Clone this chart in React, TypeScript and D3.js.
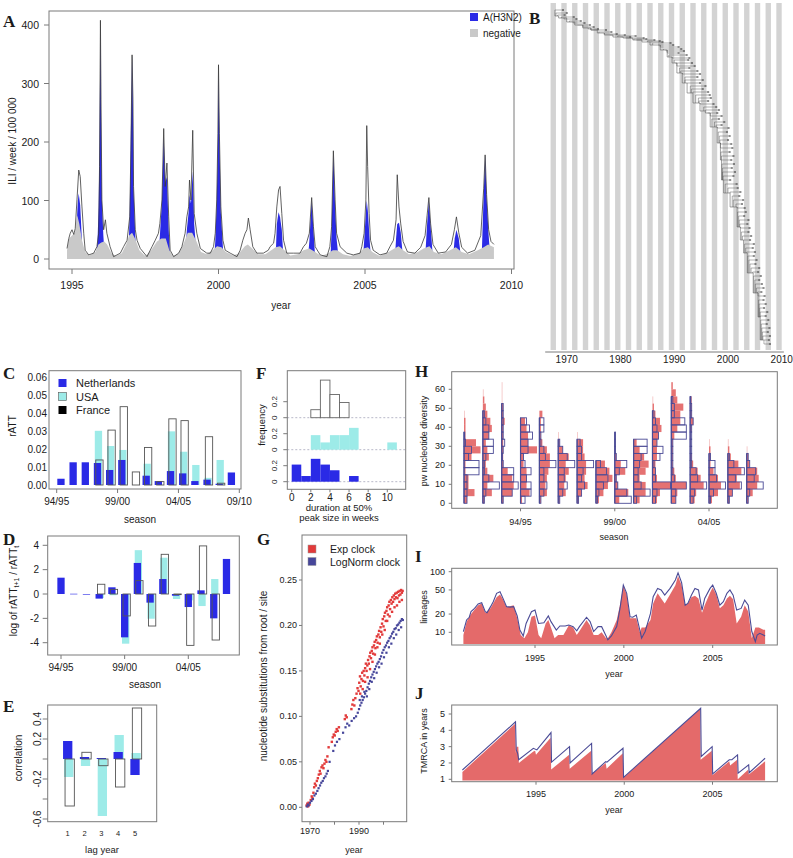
import React from 'react';
import * as d3 from 'd3';

type Pt = [number, number];

const SANS = '"Liberation Sans", Arial, Helvetica, sans-serif';
const SERIF = '"Liberation Serif", "Times New Roman", serif';
const INK = '#1a1a1a';
const FRAME = '#7a7a7a';
const BLUE = '#2a2ae6';
const CYAN = '#9debe8';
const GREY = '#c9c9c9';
const RED = '#e46a6a';
const NAVY = '#4b4b96';

// ---------- A : ILI per week ----------
const iliTotal: Pt[] = [[1994.83,18],[1994.89,35],[1994.94,44],[1995.0,50],[1995.06,42],[1995.11,52],[1995.17,101],[1995.23,152],[1995.28,141],[1995.34,89],[1995.4,44],[1995.45,15],[1995.57,7],[1995.74,10],[1995.85,21],[1995.91,44],[1995.94,158],[1995.97,408],[1995.99,272],[1996.02,101],[1996.08,50],[1996.14,67],[1996.19,44],[1996.3,21],[1996.42,4],[1996.65,10],[1996.76,21],[1996.88,32],[1996.97,72],[1997.01,186],[1997.05,349],[1997.08,272],[1997.1,124],[1997.16,50],[1997.22,32],[1997.33,18],[1997.56,4],[1997.73,21],[1997.84,32],[1997.95,44],[1998.0,61],[1998.07,101],[1998.13,223],[1998.18,124],[1998.24,164],[1998.3,72],[1998.35,15],[1998.47,4],[1998.64,10],[1998.75,21],[1998.86,44],[1998.92,72],[1998.98,89],[1999.01,135],[1999.06,101],[1999.12,220],[1999.17,78],[1999.26,44],[1999.38,18],[1999.6,10],[1999.72,10],[1999.83,21],[1999.89,44],[1999.94,101],[1999.98,215],[2000.0,332],[2000.03,215],[2000.08,89],[2000.15,32],[2000.23,15],[2000.4,10],[2000.63,4],[2000.74,15],[2000.83,32],[2000.91,44],[2000.97,50],[2001.02,70],[2001.08,50],[2001.17,21],[2001.31,10],[2001.53,10],[2001.7,15],[2001.76,21],[2001.88,27],[2001.93,44],[2001.99,89],[2002.05,118],[2002.1,124],[2002.16,78],[2002.22,32],[2002.33,10],[2002.56,10],[2002.78,10],[2002.9,21],[2003.0,27],[2003.1,44],[2003.18,105],[2003.24,55],[2003.3,21],[2003.47,7],[2003.7,4],[2003.8,21],[2003.86,55],[2003.92,185],[2003.98,101],[2004.03,44],[2004.15,21],[2004.38,10],[2004.6,7],[2004.83,10],[2004.89,21],[2004.97,44],[2005.03,101],[2005.06,228],[2005.09,158],[2005.14,78],[2005.19,32],[2005.28,15],[2005.51,7],[2005.74,10],[2005.85,21],[2005.97,32],[2006.06,67],[2006.1,144],[2006.16,89],[2006.22,60],[2006.3,30],[2006.45,12],[2006.7,10],[2006.9,20],[2007.05,40],[2007.12,75],[2007.18,105],[2007.24,60],[2007.32,25],[2007.5,10],[2007.75,12],[2007.95,25],[2008.05,50],[2008.12,72],[2008.2,45],[2008.3,20],[2008.5,10],[2008.75,15],[2008.95,40],[2009.05,120],[2009.1,178],[2009.15,110],[2009.22,50],[2009.3,30],[2009.4,25]];

const negativeILI: Pt[] = [[1994.83,15],[1994.9,35],[1995.0,40],[1995.1,45],[1995.18,75],[1995.25,60],[1995.35,30],[1995.45,12],[1995.6,6],[1995.8,12],[1995.9,25],[1996.0,28],[1996.1,30],[1996.2,25],[1996.35,10],[1996.5,5],[1996.7,10],[1996.85,25],[1996.95,40],[1997.05,45],[1997.15,35],[1997.3,15],[1997.5,5],[1997.7,15],[1997.9,30],[1998.05,35],[1998.2,35],[1998.32,15],[1998.45,5],[1998.65,10],[1998.8,25],[1998.95,45],[1999.1,45],[1999.25,30],[1999.4,12],[1999.6,8],[1999.8,15],[1999.95,22],[2000.1,20],[2000.25,12],[2000.5,6],[2000.7,10],[2000.9,22],[2001.0,25],[2001.15,18],[2001.35,8],[2001.6,8],[2001.8,15],[2001.95,20],[2002.1,22],[2002.25,15],[2002.45,6],[2002.7,8],[2002.9,15],[2003.1,18],[2003.3,12],[2003.5,5],[2003.75,10],[2003.9,15],[2004.05,15],[2004.25,8],[2004.5,5],[2004.8,10],[2004.95,18],[2005.1,20],[2005.25,12],[2005.5,5],[2005.8,12],[2006.0,18],[2006.15,22],[2006.3,15],[2006.5,8],[2006.8,12],[2007.0,18],[2007.2,22],[2007.35,12],[2007.6,8],[2007.9,15],[2008.1,20],[2008.3,12],[2008.55,8],[2008.85,15],[2009.05,20],[2009.2,25],[2009.4,20]];

const h3n2Seasons: Pt[][] = [
  [[1995.12,0],[1995.15,50],[1995.2,100],[1995.23,112],[1995.28,92],[1995.33,40],[1995.38,0]],
  [[1995.82,0],[1995.87,30],[1995.91,90],[1995.94,200],[1995.97,400],[1995.99,255],[1996.02,100],[1996.07,40],[1996.12,0]],
  [[1996.92,0],[1996.97,80],[1997.01,220],[1997.05,348],[1997.08,260],[1997.1,120],[1997.16,40],[1997.2,0]],
  [[1997.95,0],[1998.0,40],[1998.07,100],[1998.13,210],[1998.18,130],[1998.24,140],[1998.3,50],[1998.35,0]],
  [[1998.86,0],[1998.92,50],[1998.98,80],[1999.01,110],[1999.06,95],[1999.12,150],[1999.17,60],[1999.26,0]],
  [[1999.85,0],[1999.89,30],[1999.94,100],[1999.98,205],[2000.0,325],[2000.03,210],[2000.08,80],[2000.15,20],[2000.18,0]],
  [[2001.95,0],[2001.99,60],[2002.05,80],[2002.1,72],[2002.16,50],[2002.22,0]],
  [[2003.05,0],[2003.1,30],[2003.18,100],[2003.24,50],[2003.3,0]],
  [[2003.82,0],[2003.86,50],[2003.92,180],[2003.98,90],[2004.03,35],[2004.1,0]],
  [[2004.93,0],[2004.97,30],[2005.03,80],[2005.06,100],[2005.1,80],[2005.15,40],[2005.2,0]],
  [[2006.02,0],[2006.06,35],[2006.1,60],[2006.16,62],[2006.22,45],[2006.3,0]],
  [[2007.05,0],[2007.12,60],[2007.18,100],[2007.24,55],[2007.32,0]],
  [[2008.0,0],[2008.06,35],[2008.12,50],[2008.2,35],[2008.28,0]],
  [[2008.98,0],[2009.05,110],[2009.1,176],[2009.15,105],[2009.22,40],[2009.28,0]],
];
const yearTicksA = [1995, 2000, 2005, 2010];
const iliTicks = [0, 100, 200, 300, 400];

// ---------- B : tree ----------
const treeTrunk: Pt[] = [[1967.8,4],[1968.5,8],[1970,10],[1971.5,14],[1973,17],[1974.5,20],[1975.7,22],[1977,25],[1978.6,27],[1980.5,29],[1982.3,30],[1984,32],[1985.5,34],[1987.4,37],[1988.7,42],[1989.6,49],[1990.5,55],[1991.5,65],[1992.4,75],[1993.5,85],[1994.8,95],[1995.8,103],[1996.7,105],[1998,119],[1998.6,135],[1998.8,152],[1999.2,172],[2000.4,185],[2001.7,199],[2002.3,219],[2002.9,232],[2003.6,245],[2004.7,265],[2005.6,285],[2006,309],[2006.6,332]];
// [row, node year, tip year]
const treeTips: [number, number, number][] = [[2,1967.8,1969.5],[5,1968,1970.2],[7,1968.3,1969.8],[9,1969,1971.5],[11,1969.5,1972],[13,1970.5,1972.8],[15,1971.2,1973.5],[17,1972,1974.5],[19,1973,1975.2],[21,1974,1976],[22,1974.5,1977.5],[24,1976,1978.5],[26,1977,1979.5],[27,1978,1981],[28,1979.5,1983],[29,1980,1982],[30,1981,1984.5],[31,1982.5,1985],[32,1983,1986.5],[33,1985,1987.5],[34,1985.5,1988],[35,1986,1989.5],[37,1987,1990],[39,1987.4,1991],[41,1988,1991.5],[43,1988.5,1992],[45,1988.7,1991],[47,1989,1992.5],[50,1989.6,1993],[52,1990,1992.8],[55,1990.2,1993.5],[58,1990.5,1994],[60,1991,1993],[63,1991.2,1994.5],[66,1991.5,1995],[69,1992,1994.5],[72,1992,1995.5],[75,1992.4,1995],[78,1993,1996],[81,1993.2,1995.5],[84,1993.5,1996.5],[87,1994,1996.8],[90,1994.5,1997],[93,1994.6,1996.5],[96,1994.8,1997.5],[99,1995.5,1998],[102,1995.8,1998.5],[105,1996.2,1998.2],[108,1996.7,1999],[111,1997,1998.5],[114,1997.5,1999.5],[117,1997.8,1999],[120,1998,2000.3],[124,1998.2,2000],[128,1998.4,2000.5],[132,1998.5,2000.2],[136,1998.6,2000.8],[140,1998.6,2001],[144,1998.7,2000.5],[148,1998.8,2001.2],[152,1998.8,2000.8],[156,1998.9,2001.3],[160,1999,2000.9],[164,1999,2001.5],[168,1999.1,2001.2],[172,1999.2,2000.6],[176,1999.5,2001.8],[180,2000,2002],[184,2000.4,2002.5],[188,2000.8,2002.3],[192,2001,2003],[196,2001.5,2002.8],[200,2001.7,2003.3],[204,2001.8,2003.5],[208,2002,2003.2],[212,2002.1,2004],[216,2002.2,2003.8],[220,2002.3,2004.2],[224,2002.5,2004],[228,2002.7,2004.5],[232,2002.9,2004.3],[236,2003.1,2005],[240,2003.3,2004.8],[244,2003.5,2005.2],[248,2003.7,2005],[252,2003.9,2005.5],[256,2004.1,2005.3],[260,2004.3,2006],[264,2004.6,2005.8],[268,2004.8,2006.3],[272,2005,2006],[276,2005.1,2006.5],[280,2005.3,2006.8],[284,2005.5,2006.4],[288,2005.6,2007],[292,2005.7,2006.8],[296,2005.8,2007.2],[300,2005.9,2006.9],[304,2006,2007.5],[308,2006,2007.2],[312,2006.1,2007.7],[316,2006.2,2007.4],[320,2006.3,2007.9],[324,2006.4,2007.6],[328,2006.5,2008],[332,2006.6,2007.8],[336,2006.7,2008]];
const treeYearTicks = [1970, 1980, 1990, 2000, 2010];

// ---------- C : rATT ----------
const seasonTicksC = ['94/95', '99/00', '04/05', '09/10'];
const rattNL = [0.0035, 0.0127, 0.0127, 0.0123, 0.0084, 0.014, 0, 0.0052, 0.0022, 0.0078, 0.0065, 0.0022, 0.003, 0.0007, 0.007];
const rattUSA = [0, 0, 0, 0.0303, 0.0218, 0.0196, 0, 0.0119, 0, 0.030, 0.0186, 0.0112, 0.004, 0.014, 0];
const rattFR = [0, 0, 0, 0.014, 0.0307, 0.0438, 0.0073, 0.021, 0.0019, 0.037, 0.036, 0, 0.027, 0.001, 0];
const countries = ['Netherlands', 'USA', 'France'];
const rattTicks = [0, 0.01, 0.02, 0.03, 0.04, 0.05, 0.06];

// ---------- D : log ratios ----------
const seasonTicksD = ['94/95', '99/00', '04/05'];
const logNL = [1.34, 0.02, -0.05, -0.38, 0.55, -3.56, 2.55, -0.71, 1.23, -0.14, -1.07, 0.3, -2.0, 2.88];
const logUSA = [null, null, null, -0.33, -0.1, -4.08, 3.6, -2.03, 2.98, -0.41, -0.52, -0.99, 1.23, null];
const logFR = [null, null, null, 0.8, 0.38, -1.8, 1.1, -2.63, 3.26, -0.03, -4.22, 3.95, -3.78, null];
const logTicks = [-4, -2, 0, 2, 4];

// ---------- E : correlation ----------
const lags = [1, 2, 3, 4, 5];
const corNL = [0.18, 0.02, 0.01, 0.07, -0.16];
const corUSA = [-0.18, -0.07, -0.57, 0.24, 0.06];
const corFR = [-0.47, 0.067, -0.067, -0.28, 0.51];
const corTicks = [-0.6, -0.4, -0.2, 0, 0.2, 0.4];
const corLabels = ['-0.6', '', '-0.2', '', '0.2', '0.4'];

// ---------- F : durations ----------
const durNL = [0.214, 0.071, 0.286, 0.214, 0.143, 0, 0.071];
const durUSA = [0, 0, 0.182, 0.091, 0.182, 0.182, 0.273, 0, 0, 0, 0.091];
const durFR = [0, 0, 0.1, 0.47, 0.29, 0.19];
const durTicks = [0, 2, 4, 6, 8, 10];

// ---------- G : clock ----------
const expClock: Pt[] = [[1968.6,0.002],[1968.9,0.004],[1969.2,0.001],[1969.4,0.005],[1969.8,0.003],[1970.3,0.008],[1970.7,0.012],[1971.0,0.010],[1971.4,0.016],[1971.7,0.022],[1972.0,0.026],[1972.4,0.024],[1972.8,0.029],[1973.2,0.032],[1973.6,0.036],[1974.0,0.040],[1974.3,0.037],[1974.7,0.044],[1975.1,0.046],[1975.5,0.043],[1975.9,0.048],[1976.3,0.052],[1976.7,0.050],[1977.1,0.056],[1977.6,0.066],[1978.9,0.072],[1979.3,0.077],[1979.7,0.080],[1980.1,0.079],[1980.5,0.083],[1980.9,0.086],[1981.3,0.084],[1981.8,0.088],[1984.2,0.097],[1984.6,0.101],[1985.0,0.099],[1986.9,0.108],[1987.3,0.113],[1987.7,0.118],[1988.1,0.112],[1988.5,0.120],[1989.0,0.125],[1989.4,0.131],[1989.8,0.128],[1990.1,0.137],[1990.4,0.144],[1990.7,0.133],[1991.0,0.141],[1991.3,0.148],[1991.6,0.139],[1991.9,0.150],[1992.2,0.145],[1992.5,0.153],[1992.8,0.158],[1993.1,0.150],[1993.4,0.156],[1993.7,0.162],[1994.0,0.158],[1994.3,0.166],[1994.6,0.170],[1994.9,0.164],[1995.2,0.172],[1995.5,0.176],[1995.8,0.169],[1996.1,0.178],[1996.4,0.182],[1996.7,0.175],[1997.0,0.184],[1997.3,0.188],[1997.6,0.181],[1997.9,0.190],[1998.2,0.194],[1998.5,0.187],[1998.8,0.198],[1999.1,0.193],[1999.4,0.202],[1999.7,0.207],[2000.0,0.199],[2000.3,0.210],[2000.6,0.214],[2000.9,0.205],[2001.2,0.216],[2001.5,0.220],[2001.8,0.212],[2002.1,0.222],[2002.4,0.226],[2002.7,0.218],[2003.0,0.228],[2003.3,0.224],[2003.6,0.231],[2003.9,0.226],[2004.2,0.233],[2004.5,0.229],[2004.8,0.235],[2005.1,0.231],[2005.4,0.236],[2005.7,0.230],[2006.0,0.237],[2006.3,0.233],[2006.6,0.238],[2006.9,0.234],[2007.2,0.239],[2007.5,0.236],[2007.8,0.238],[1990.5,0.125],[1991.5,0.13],[1992.5,0.138],[1993.5,0.143],[1994.5,0.152],[1995.5,0.16],[1996.5,0.168],[1997.5,0.176],[1998.5,0.18],[1999.5,0.19],[2000.5,0.195],[2001.5,0.205],[2002.5,0.21],[2003.5,0.215],[2004.5,0.22],[2005.5,0.222],[2006.5,0.226],[2007.5,0.228]];
const logNormClock: Pt[] = [[1968.7,0.001],[1969.1,0.003],[1969.5,0.002],[1970.0,0.005],[1970.6,0.007],[1971.2,0.009],[1971.8,0.013],[1972.4,0.015],[1973.0,0.018],[1973.5,0.021],[1974.1,0.024],[1974.6,0.027],[1975.2,0.029],[1975.7,0.032],[1976.3,0.034],[1976.8,0.037],[1977.3,0.040],[1978.0,0.050],[1979.5,0.062],[1980.2,0.068],[1981.0,0.072],[1982.0,0.075],[1983.5,0.082],[1984.5,0.088],[1985.2,0.092],[1986.0,0.090],[1987.0,0.095],[1988.0,0.098],[1988.8,0.100],[1989.5,0.104],[1990.0,0.108],[1990.5,0.112],[1991.0,0.115],[1991.5,0.118],[1992.0,0.121],[1992.5,0.125],[1993.0,0.128],[1993.5,0.132],[1994.0,0.136],[1994.5,0.139],[1995.0,0.143],[1995.5,0.146],[1996.0,0.149],[1996.5,0.152],[1997.0,0.155],[1997.5,0.158],[1998.0,0.160],[1998.5,0.163],[1999.0,0.166],[1999.5,0.170],[2000.0,0.173],[2000.5,0.176],[2001.0,0.178],[2001.5,0.181],[2002.0,0.183],[2002.5,0.186],[2003.0,0.188],[2003.5,0.191],[2004.0,0.193],[2004.5,0.196],[2005.0,0.197],[2005.5,0.200],[2006.0,0.201],[2006.5,0.203],[2007.0,0.205],[2007.5,0.207],[2007.9,0.206],[1990.3,0.118],[1991.2,0.122],[1992.2,0.127],[1993.2,0.122],[1994.2,0.13],[1995.2,0.138],[1996.2,0.142],[1997.2,0.148],[1998.2,0.154],[1999.2,0.158],[2000.2,0.165],[2001.2,0.17],[2002.2,0.176],[2003.2,0.18],[2004.2,0.186],[2005.2,0.19],[2006.2,0.195],[2007.2,0.198]];
const clockYearTicks = [1970, 1980, 1990, 2000];
const clockYearLabels = ['1970', '', '1990', ''];
const substTicks = [0, 0.05, 0.1, 0.15, 0.2, 0.25];

// ---------- H : pairwise diversity histograms (16 seasons, bins of 3.75) ----------
const pwSeasonLabels = [[3, '94/95'], [8, '99/00'], [13, '04/05']] as [number, string][];
const pwRed: number[][] = [
  [2,7,3,3,1,1,5,11,8,1,1,1,0.5],
  [1,6,3,7,3,2,4,3,2,4,6,5,3,2,1,0.5],
  [1,7,8,7,4,1,1,1,1,1,1,2,1,1,0.5,0.5,0.5],
  [1,6,4,4,4,2,2,11,5,5,4,3],
  [1,5,4,5,6,7,7,5,2,1,1,1,2],
  [1,5,4,5,7,5,7,3,1,0.5],
  [1,3,7,5,6,6,5,4,4,0.5],
  [2,5,8,11,9,6],
  [3,9,2,1,7,4,1,0.5],
  [4,8,8,4,8,10,7,4,2],
  [3,5,12,3,2,2,3,3,3,4,6,5,2,1,0.5],
  [3,4,10,3,2,1,1,1,1,2,4,6,6,8,4,3,1],
  [3,4,9,7,5,2,1,0.5,0.5,0.5,1,2,1,1,1],
  [2,6,8,6,3,1,1,1,0.5],
  [1,3,8,6,9,7,2,1,0.5],
  [1,4,7,8,7,2,1,0.5],
];
const pwNavy: number[][] = [
  [2,2,2,2,10,10,3,5,1,0.5],
  [1,2,11,4,1,1,2,7,7,4,4,2,1],
  [1,7,11,8,8,1,0.5,1,2,1,1,1,1,1],
  [3,7,7,4,7,3,2,5,5,8,6,4],
  [1,3,5,3,3,11,4,3,1,1,3,3],
  [1,3,6,4,4,11,6,3,1],
  [1,3,5,3,4,11,3,3,2],
  [1,2,5,8,7,3],
  [11,8,2,1,3,8,1,0.5,0.5,0.5],
  [2,11,5,3,3,4,5,9,9],
  [2,3,12,2,2,1,5,7,3,4,3,2,1],
  [3,3,10,2,1,1,1,1,1,10,10,9,2,2,1],
  [2,3,11,5,4,1,1,1,1,1,1,2,1,1,0.5],
  [1,3,11,5,4,4,1],
  [1,3,9,5,11,4,1],
  [1,2,11,5,6,2,1],
];
const pwTicks = [0, 10, 20, 30, 40, 50, 60];

// ---------- I : lineages ----------
const lineagesNavy: Pt[] = [[1990.97,10.3],[1991.15,16],[1991.3,17.7],[1991.4,21.9],[1991.6,24.8],[1991.8,29.3],[1992.0,30.8],[1992.2,21.9],[1992.3,21],[1992.5,26.5],[1992.65,32],[1992.84,44],[1993.03,46.7],[1993.2,36.3],[1993.4,26.5],[1993.6,26],[1993.8,26.5],[1994.0,18.6],[1994.15,10.9],[1994.34,8.7],[1994.5,14],[1994.8,21.9],[1995.0,23.3],[1995.2,14],[1995.5,14.4],[1995.75,18.6],[1995.9,15],[1996.2,10.9],[1996.4,12.7],[1996.7,12.7],[1996.9,13.2],[1997.15,12.4],[1997.35,10.6],[1997.5,12.4],[1997.9,17.7],[1998.1,15],[1998.3,10.3],[1998.55,12.4],[1998.75,12.4],[1999.0,8.7],[1999.1,7.5],[1999.3,8.7],[1999.6,12.4],[1999.8,26.5],[1999.97,60],[2000.16,44],[2000.35,18],[2000.5,17.7],[2000.7,19.2],[2000.9,10.9],[2001.0,8],[2001.2,10.3],[2001.5,20.5],[2001.65,38.7],[2001.9,53],[2002.1,50],[2002.3,41],[2002.6,53],[2002.9,73],[2003.05,96],[2003.25,66],[2003.45,28],[2003.6,30],[2003.8,41],[2004.0,53],[2004.2,50],[2004.4,23.3],[2004.55,36.3],[2004.85,53],[2005.0,60],[2005.2,44],[2005.4,28],[2005.6,32],[2005.8,44],[2005.97,50],[2006.15,41],[2006.35,23.3],[2006.6,24.8],[2006.8,34],[2007.0,28],[2007.2,10.3],[2007.4,7],[2007.5,9],[2007.65,9.6],[2007.85,9],[2007.95,8.7]];
const lineagesRed: Pt[] = [[1990.97,9],[1991.15,15],[1991.4,20],[1991.8,28],[1992.0,30],[1992.2,21],[1992.5,25],[1992.84,38],[1993.03,42],[1993.2,35],[1993.4,26],[1993.8,28],[1994.0,17],[1994.2,9],[1994.4,8],[1994.6,10],[1994.8,18],[1995.0,19],[1995.2,9],[1995.35,8],[1995.6,14],[1995.75,16],[1995.9,12],[1996.1,8],[1996.3,9],[1996.6,9],[1996.9,13],[1997.15,12],[1997.35,9],[1997.55,11],[1997.9,16],[1998.1,13],[1998.3,9],[1998.55,9],[1998.75,10],[1999.0,8],[1999.1,8],[1999.3,10],[1999.6,16],[1999.8,30],[1999.97,58],[2000.16,42],[2000.35,17],[2000.5,17],[2000.7,17],[2000.9,10],[2001.0,12],[2001.2,12],[2001.5,16],[2001.65,30],[2001.9,44],[2002.1,36],[2002.3,30],[2002.6,42],[2002.9,60],[2003.05,85],[2003.25,60],[2003.45,28],[2003.6,30],[2003.8,38],[2004.0,40],[2004.2,36],[2004.4,21],[2004.55,28],[2004.85,45],[2005.0,55],[2005.2,42],[2005.4,25],[2005.6,28],[2005.8,36],[2005.97,40],[2006.15,35],[2006.35,14],[2006.6,18],[2006.8,28],[2007.0,22],[2007.2,8],[2007.4,12],[2007.6,12],[2007.85,11],[2007.95,11]];
const lineageTicks = [10, 20, 50, 100];
const yearTicksIJ = [1995, 2000, 2005];

// ---------- J : TMRCA ----------
const tmrcaNavy: Pt[] = [[1990.83,1.57],[1993.84,4.52],[1993.88,2.8],[1993.96,2.6],[1994.02,2.2],[1994.85,2.9],[1995.05,2.8],[1995.85,3.86],[1995.88,2.05],[1996.9,3.0],[1996.93,2.0],[1998.15,3.2],[1998.18,1.33],[1998.95,2.08],[1999.02,2.05],[1999.93,2.9],[1999.96,1.12],[2004.33,5.35],[2004.36,2.4],[2004.98,3.0],[2005.01,1.33],[2005.95,2.2],[2006.1,2.2],[2006.42,2.5],[2006.45,1.37],[2007.05,1.88],[2007.08,1.4],[2007.98,2.29]];
const tmrcaRed: Pt[] = [[1990.83,1.45],[1993.82,4.4],[1993.86,2.6],[1993.9,3.0],[1994.0,3.0],[1994.03,2.0],[1994.85,2.7],[1994.95,2.75],[1995.0,2.5],[1995.83,3.55],[1995.86,1.6],[1996.88,2.5],[1996.91,1.65],[1998.13,2.75],[1998.16,1.33],[1998.95,2.0],[1999.0,1.65],[1999.92,2.6],[1999.95,1.1],[2004.3,5.3],[2004.33,2.2],[2004.96,2.75],[2004.99,1.25],[2005.95,2.1],[2006.0,1.85],[2006.4,2.2],[2006.43,1.0],[2007.03,1.6],[2007.06,1.3],[2007.98,2.1]];
const tmrcaTicks = [1, 2, 3, 4, 5];

// ---------- helpers ----------
const Frame = ({ x0, y0, x1, y1 }: any) => (
  <rect x={x0} y={y0} width={x1 - x0} height={y1 - y0} fill="none" stroke={FRAME} strokeWidth={1} />
);
const Label = ({ x, y, children, fs = 10, anchor = 'middle', rot = false, fill = INK }: any) => (
  <text transform={`translate(${x},${y})${rot ? ' rotate(-90)' : ''}`} textAnchor={anchor} dominantBaseline="central"
    fontSize={fs} fill={fill}>{children}</text>
);
const PanelLetter = ({ x, y, t }: any) => (
  <text x={x} y={y} fontFamily={SERIF} fontWeight="bold" fontSize={17} fill={INK}>{t}</text>
);
function XTicks({ scale, values, labels, y, labelY, fs = 10, len = 4 }: any) {
  return <g>{values.map((v: number, i: number) => (
    <g key={i}>
      {len > 0 && <line x1={scale(v)} x2={scale(v)} y1={y} y2={y + len} stroke={FRAME} />}
      {labels[i] !== '' && <Label x={scale(v)} y={labelY} fs={fs}>{labels[i]}</Label>}
    </g>))}</g>;
}
function YTicks({ scale, values, labels, x, labelX, fs = 10, len = 4, rot = false }: any) {
  return <g>{values.map((v: number, i: number) => (
    <g key={i}>
      {len > 0 && <line x1={x - len} x2={x} y1={scale(v)} y2={scale(v)} stroke={FRAME} />}
      {labels[i] !== '' && <Label x={labelX} y={scale(v)} fs={fs} anchor={rot ? 'middle' : 'end'} rot={rot}>{labels[i]}</Label>}
    </g>))}</g>;
}

function PanelA() {
  const x = d3.scaleLinear().domain([1994.215, 2010.085]).range([49, 514]);
  const y = d3.scaleLinear().domain([0, 400]).range([259, 25]);
  const area = d3.area<Pt>().x(d => x(d[0])).y0(y(0)).y1(d => y(d[1]));
  const line = d3.line<Pt>().x(d => x(d[0])).y(d => y(d[1]));
  return (
    <g>
      {h3n2Seasons.map((s, i) => <path key={i} d={area(s) || ''} fill={BLUE} />)}
      <path d={area(negativeILI) || ''} fill={GREY} />
      <path d={line(iliTotal) || ''} fill="none" stroke="#3a3a3a" strokeWidth={0.8} />
      <Frame x0={49} y0={11} x1={514} y1={269} />
      <XTicks scale={x} values={yearTicksA} labels={yearTicksA.map(String)} y={269} labelY={285} fs={10.5} len={5} />
      <YTicks scale={y} values={iliTicks} labels={iliTicks.map(String)} x={49} labelX={39} fs={10.5} len={5} />
      <Label x={281} y={305} fs={10}>year</Label>
      <Label x={12} y={141} fs={10} rot>ILI / week / 100 000</Label>
      <rect x={470} y={13} width={8} height={8} fill={BLUE} />
      <Label x={483} y={17} fs={10} anchor="start">A(H3N2)</Label>
      <rect x={470} y={29} width={8} height={8} fill={GREY} />
      <Label x={483} y={33} fs={10} anchor="start">negative</Label>
      <PanelLetter x={3} y={27} t="A" />
    </g>
  );
}

function PanelB() {
  const x = d3.scaleLinear().domain([1970, 2010]).range([566.7, 781.7]);
  const r = d3.scaleLinear().domain([0, 340]).range([8, 348]);
  const stripes = d3.range(1967, 2010, 2);
  const bis = d3.bisector((d: Pt) => d[0]).left;
  const trunkRow = (t: number) => treeTrunk[Math.min(bis(treeTrunk, t), treeTrunk.length - 1)][1];
  let trunkPath = `M${x(treeTrunk[0][0])},${r(treeTrunk[0][1])}`;
  treeTrunk.slice(1).forEach(d => { trunkPath += `V${r(d[1])}H${x(d[0])}`; });
  return (
    <g>
      {stripes.map(s => <rect key={s} x={x(s)} y={3} width={x(s + 1) - x(s)} height={347} fill="#d3d3d3" />)}
      <path d={trunkPath} fill="none" stroke="#666" strokeWidth={0.6} />
      {treeTips.map((d, i) => (
        <path key={i} d={`M${x(d[1])},${r(trunkRow(d[1]))}V${r(d[0])}H${x(d[2])}`} fill="none" stroke="#555" strokeWidth={0.45} />
      ))}
      {treeTips.map((d, i) => (
        <line key={'t' + i} x1={x(d[2]) - 2} x2={x(d[2])} y1={r(d[0])} y2={r(d[0])} stroke="#222" strokeWidth={0.8} />
      ))}
      <line x1={x(1966)} x2={x(2010.4)} y1={352} y2={352} stroke={FRAME} />
      {treeYearTicks.map(t => <Label key={t} x={x(t)} y={359} fs={10}>{t}</Label>)}
      <PanelLetter x={529} y={24} t="B" />
    </g>
  );
}

function PanelC() {
  const x = d3.scaleLinear().domain([0, 15]).range([56.7, 239.3]);
  const y = d3.scaleLinear().domain([0, 0.06]).range([485, 377.7]);
  const bw = x(0.6) - x(0);
  const bars = (vals: number[], off: number, fill: string, stroke = 'none') => vals.map((v, i) => v > 0 && (
    <rect key={i} x={x(i + 0.35 + off) - bw / 2} y={y(v)} width={bw} height={y(0) - y(v)} fill={fill} stroke={stroke} strokeWidth={0.9} />
  ));
  return (
    <g>
      {bars(rattUSA, 0.08, CYAN)}
      {bars(rattNL, 0, BLUE)}
      {bars(rattFR, 0.16, 'none', '#555')}
      <Frame x0={49} y0={370.7} x1={241} y1={489} />
      <XTicks scale={x} values={[0, 5, 10, 15]} labels={seasonTicksC} y={489} labelY={501.5} fs={10} len={4} />
      <YTicks scale={y} values={rattTicks} labels={rattTicks.map(v => v.toFixed(2))} x={49} labelX={47} fs={10} len={0} />
      <Label x={140} y={519} fs={10}>season</Label>
      <Label x={12} y={426} fs={10} rot>rATT</Label>
      {countries.map((c, i) => (
        <g key={c}>
          <rect x={58.5} y={379 + i * 13.5} width={8} height={8} fill={[BLUE, CYAN, '#000'][i]} stroke={i === 1 ? '#555' : 'none'} strokeWidth={0.6} />
          <Label x={76} y={383 + i * 13.5} fs={11} anchor="start">{c}</Label>
        </g>
      ))}
      <PanelLetter x={3} y={379} t="C" />
    </g>
  );
}

function PanelD() {
  const x = d3.scaleLinear().domain([0, 10]).range([61, 188.3]);
  const y = d3.scaleLinear().domain([-4, 4]).range([642.7, 545.3]);
  const bw = 7.3;
  const bars = (vals: (number | null)[], off: number, fill: string, stroke = 'none') => vals.map((v, i) => v != null && (
    <rect key={i} x={x(i) + off - bw / 2} y={y(Math.max(v, 0))} width={bw} height={Math.max(Math.abs(y(v) - y(0)), 0.6)} fill={fill} stroke={stroke} strokeWidth={0.9} />
  ));
  return (
    <g>
      {bars(logUSA, 1, CYAN)}
      {bars(logNL, 0, BLUE)}
      {bars(logFR, 2, 'none', '#555')}
      <Frame x0={47.7} y0={536} x1={239.3} y1={655} />
      <XTicks scale={x} values={[0, 5, 10]} labels={seasonTicksD} y={655} labelY={667} fs={10} len={4} />
      <YTicks scale={y} values={logTicks} labels={logTicks.map(String)} x={47.7} labelX={39} fs={10} len={5} />
      <Label x={145} y={684} fs={10}>season</Label>
      <text transform="translate(13,591) rotate(-90)" textAnchor="middle" dominantBaseline="central" fontSize={10} fill={INK}>
        log of  rATT<tspan fontSize={7} dy={3}>t+1</tspan><tspan dy={-3}> / rATT</tspan><tspan fontSize={7} dy={3}>t</tspan>
      </text>
      <PanelLetter x={3} y={545} t="D" />
    </g>
  );
}

function PanelE() {
  const x = d3.scaleLinear().domain([1, 5]).range([67.7, 135]);
  const y = d3.scaleLinear().domain([-0.6, 0.4]).range([819, 719]);
  const bw = 9.3;
  const bars = (vals: number[], off: number, fill: string, stroke = 'none') => vals.map((v, i) => (
    <rect key={i} x={x(lags[i]) + off - bw / 2} y={y(Math.max(v, 0))} width={bw} height={Math.abs(y(v) - y(0))} fill={fill} stroke={stroke} strokeWidth={0.9} />
  ));
  return (
    <g>
      {bars(corUSA, 1, CYAN)}
      {bars(corNL, 0, BLUE)}
      {bars(corFR, 2, 'none', '#555')}
      <Frame x0={47.7} y0={705} x1={156.7} y1={821.7} />
      <XTicks scale={x} values={lags} labels={lags.map(String)} y={821.7} labelY={833.5} fs={7.5} len={0} />
      <YTicks scale={y} values={corTicks} labels={corLabels} x={47.7} labelX={37} fs={10} len={5} rot />
      <Label x={102} y={849} fs={9.5}>lag year</Label>
      <Label x={18} y={758} fs={10} rot>correlation</Label>
      <PanelLetter x={3} y={712} t="E" />
    </g>
  );
}

function PanelF() {
  const x = d3.scaleLinear().domain([0, 10]).range([291.7, 387.3]);
  const y = d3.scaleLinear().domain([0, 1]).range([481.7, 401.7]);
  const hist = (vals: number[], base: number, fill: string, stroke = 'none') => vals.map((v, i) => v > 0 && (
    <rect key={i} x={x(i)} y={y(base + v)} width={x(i + 1) - x(i)} height={y(base) - y(base + v)} fill={fill} stroke={stroke} strokeWidth={0.9} />
  ));
  return (
    <g>
      {[0, 0.4, 0.8].map(b => <line key={b} x1={287.3} x2={405.7} y1={y(b)} y2={y(b)} stroke="#b8b8c8" strokeDasharray="2,2" />)}
      {hist(durNL, 0, BLUE)}
      {hist(durUSA, 0.4, CYAN)}
      {hist(durFR, 0.8, '#fff', '#666')}
      <Frame x0={287.3} y0={370.7} x1={405.7} y1={489.3} />
      <XTicks scale={x} values={durTicks} labels={durTicks.map(String)} y={489.3} labelY={497} fs={10} len={3} />
      <YTicks scale={y} values={[0, 0.2, 0.4, 0.6, 0.8, 1.0]} labels={['0', '0.2', '0', '0.2', '0', '0.2']} x={287.3} labelX={274} fs={8} len={4} rot />
      <Label x={339} y={507} fs={9.5}>duration at 50%</Label>
      <Label x={339} y={517} fs={9.5}>peak size in weeks</Label>
      <Label x={261} y={425} fs={9.5} rot>frequency</Label>
      <PanelLetter x={256} y={379} t="F" />
    </g>
  );
}

function PanelG() {
  const x = d3.scaleLinear().domain([1970, 1990]).range([310, 359]);
  const y = d3.scaleLinear().domain([0, 0.25]).range([807.3, 580]);
  return (
    <g>
      {expClock.map((d, i) => <rect key={'e' + i} x={x(d[0]) - 1.2} y={y(d[1]) - 1.2} width={2.4} height={2.4} fill="#e23a3a" />)}
      {logNormClock.map((d, i) => <rect key={'l' + i} x={x(d[0]) - 1.1} y={y(d[1]) - 1.1} width={2.2} height={2.2} fill="#46469a" />)}
      <Frame x0={302} y0={535} x1={406.7} y1={821.7} />
      <XTicks scale={x} values={clockYearTicks} labels={clockYearLabels} y={821.7} labelY={831} fs={9} len={3} />
      <YTicks scale={y} values={substTicks} labels={substTicks.map(v => v.toFixed(2))} x={302} labelX={297} fs={9} len={3} />
      <Label x={354} y={850} fs={9}>year</Label>
      <Label x={263} y={676} fs={10} rot>nucleotide substitutions from root / site</Label>
      <rect x={308} y={545} width={8} height={8} fill="#e23a3a" stroke="#999" strokeWidth={0.5} />
      <Label x={330} y={549} fs={10.5} anchor="start">Exp clock</Label>
      <rect x={308} y={557.5} width={8} height={8} fill="#46469a" stroke="#999" strokeWidth={0.5} />
      <Label x={330} y={561.5} fs={10.5} anchor="start">LogNorm clock</Label>
      <PanelLetter x={257} y={545} t="G" />
    </g>
  );
}

function PanelH() {
  const x = d3.scaleLinear().domain([0, 15]).range([464, 746.7]);
  const y = d3.scaleLinear().domain([0, 60]).range([503.3, 389.3]);
  const w = d3.scaleLinear().domain([0, 10]).range([0, 15]);
  const BIN = 3.75;
  return (
    <g>
      {pwRed.map((g, gi) => g.map((v, k) => (
        <rect key={`r${gi}-${k}`} x={x(gi)} y={y((k + 1) * BIN)} width={w(v)} height={y(k * BIN) - y((k + 1) * BIN)}
          fill={RED} opacity={v < 1 ? 0.45 : 0.95} />
      )))}
      {pwNavy.map((g, gi) => (
        <g key={`n${gi}`}>
          {g.map((v, k) => (
            <rect key={k} x={x(gi)} y={y((k + 1) * BIN)} width={w(v)} height={y(k * BIN) - y((k + 1) * BIN)}
              fill="none" stroke={NAVY} strokeWidth={0.9} />
          ))}
          <line x1={x(gi)} x2={x(gi)} y1={y(0)} y2={y(g.length * BIN)} stroke={NAVY} strokeWidth={1.2} />
        </g>
      ))}
      <Frame x0={451.7} y0={371.7} x1={777.3} y1={508.3} />
      <XTicks scale={x} values={pwSeasonLabels.map(d => d[0])} labels={pwSeasonLabels.map(d => d[1])} y={508.3} labelY={521.5} fs={9} len={3} />
      <YTicks scale={y} values={pwTicks} labels={pwTicks.map(String)} x={451.7} labelX={445} fs={9} len={3} />
      <Label x={614} y={537} fs={9}>season</Label>
      <Label x={424} y={441} fs={9} rot>pw nucleotide diversity</Label>
      <PanelLetter x={415} y={377} t="H" />
    </g>
  );
}

function PanelI() {
  const x = d3.scaleLinear().domain([1995, 2005]).range([535, 712.7]);
  const y = d3.scaleLog().domain([10, 100]).range([632.3, 571.7]);
  const area = d3.area<Pt>().x(d => x(d[0])).y0(y(6.4)).y1(d => y(d[1]));
  const line = d3.line<Pt>().x(d => x(d[0])).y(d => y(d[1]));
  return (
    <g>
      <path d={area(lineagesRed) || ''} fill={RED} />
      <path d={line(lineagesNavy) || ''} fill="none" stroke={NAVY} strokeWidth={1.1} />
      <Frame x0={451.7} y0={568.3} x1={777.3} y1={645} />
      <XTicks scale={x} values={yearTicksIJ} labels={yearTicksIJ.map(String)} y={645} labelY={658} fs={9} len={3} />
      <YTicks scale={y} values={lineageTicks} labels={lineageTicks.map(String)} x={451.7} labelX={445} fs={9} len={3} />
      <Label x={614} y={674} fs={9}>year</Label>
      <Label x={424} y={607} fs={9} rot>lineages</Label>
      <PanelLetter x={415} y={562} t="I" />
    </g>
  );
}

function PanelJ() {
  const x = d3.scaleLinear().domain([1995, 2005]).range([536, 712.5]);
  const y = d3.scaleLinear().domain([1, 5]).range([779.3, 714]);
  const area = d3.area<Pt>().x(d => x(d[0])).y0(y(0.92)).y1(d => y(d[1]));
  const line = d3.line<Pt>().x(d => x(d[0])).y(d => y(d[1]));
  return (
    <g>
      <path d={area(tmrcaRed) || ''} fill={RED} />
      <path d={line(tmrcaNavy) || ''} fill="none" stroke={NAVY} strokeWidth={1.1} />
      <Frame x0={451.7} y0={705} x1={777.3} y1={781.7} />
      <XTicks scale={x} values={yearTicksIJ} labels={yearTicksIJ.map(String)} y={781.7} labelY={793.5} fs={9} len={3} />
      <YTicks scale={y} values={tmrcaTicks} labels={tmrcaTicks.map(String)} x={451.7} labelX={445} fs={9} len={3} />
      <Label x={614} y={810} fs={9}>year</Label>
      <Label x={424} y={741} fs={9} rot>TMRCA in years</Label>
      <PanelLetter x={415} y={699} t="J" />
    </g>
  );
}

export default function App() {
  return (
    <svg width={793} height={858} style={{ position: 'absolute', left: 0, top: 0, background: '#fff' }} fontFamily={SANS}>
      <rect width={793} height={858} fill="#fff" />
      <PanelA />
      <PanelB />
      <PanelC />
      <PanelD />
      <PanelE />
      <PanelF />
      <PanelG />
      <PanelH />
      <PanelI />
      <PanelJ />
    </svg>
  );
}
